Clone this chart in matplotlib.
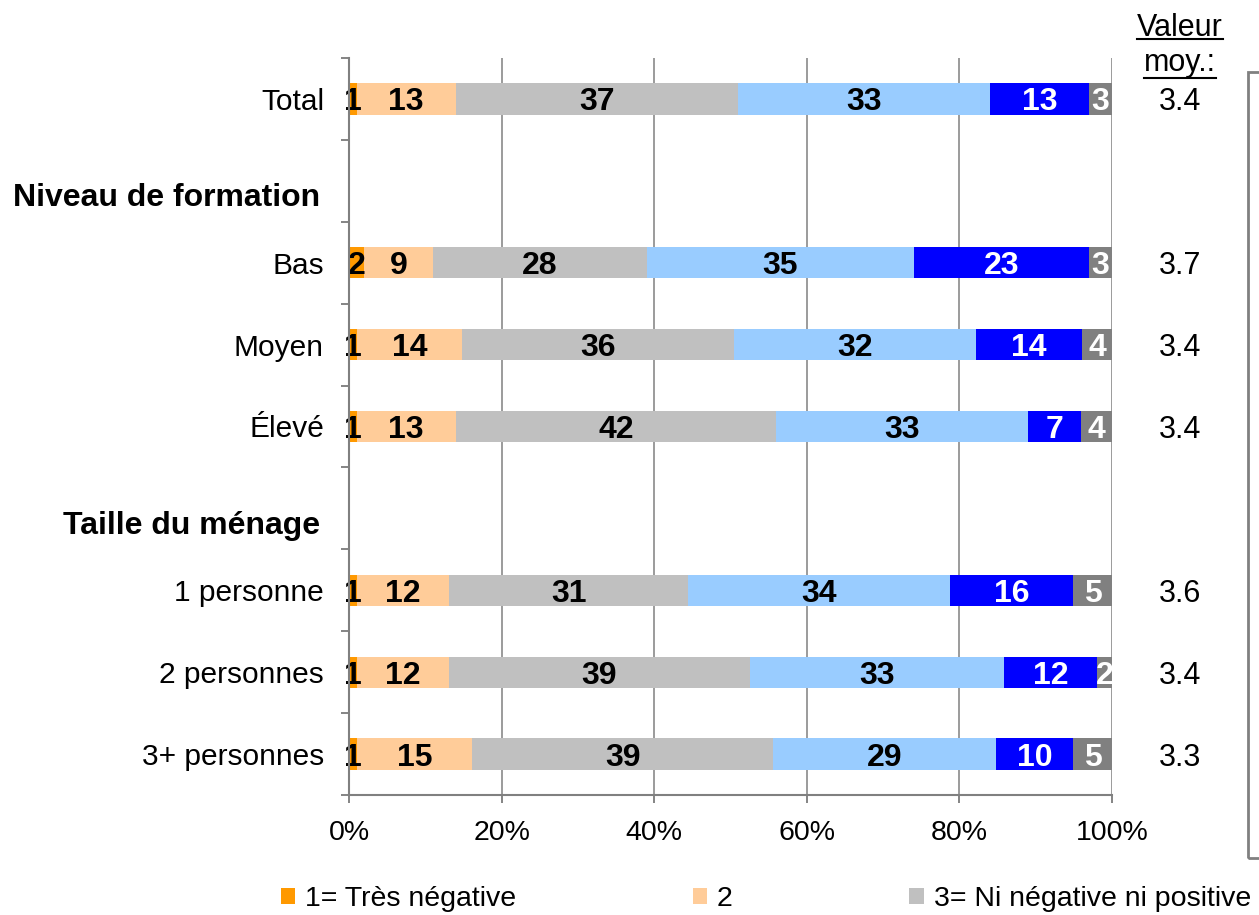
import numpy as np
import matplotlib
matplotlib.use('Agg')
import matplotlib.pyplot as plt
import matplotlib.transforms as mtransforms
from matplotlib.patches import Patch, Rectangle
from matplotlib.lines import Line2D

plt.rcParams['font.family'] = ['Liberation Sans', 'DejaVu Sans']

# rows of the chart (None = empty slot used by a section header)
rows = ['Total', None, 'Bas', 'Moyen', 'Élevé', None, '1 personne', '2 personnes', '3+ personnes']
headers = ['Niveau de formation', 'Taille du ménage']
header_slots = [1, 5]

series_names = ['1= Très négative', '2', '3= Ni négative ni positive']
series_colors = ['#FF9900', '#FFCC99', '#C0C0C0', '#99CCFF', '#0000FF', '#808080']
label_colors = ['black', 'black', 'black', 'black', 'white', 'white']

s1 = [1, 2, 1, 1, 1, 1, 1]
s2 = [13, 9, 14, 13, 12, 12, 15]
s3 = [37, 28, 36, 42, 31, 39, 39]
s4 = [33, 35, 32, 33, 34, 33, 29]
s5 = [13, 23, 14, 7, 16, 12, 10]
s6 = [3, 3, 4, 4, 5, 2, 5]
means = ['3.4', '3.7', '3.4', '3.4', '3.6', '3.4', '3.3']

series = np.array([s1, s2, s3, s4, s5, s6], dtype=float)
shares = series / series.sum(axis=0) * 100

ypos = [i for i, r in enumerate(rows) if r is not None]

fig = plt.figure(figsize=(12.59, 9.15), dpi=100)
ax = fig.add_axes([349 / 1259, 1 - 795 / 915, 763 / 1259, 737 / 915])

left = np.zeros(len(ypos))
for k in range(6):
    ax.barh(ypos, shares[k], left=left, height=0.38, color=series_colors[k], zorder=3)
    for j, y in enumerate(ypos):
        ax.text(left[j] + shares[k][j] / 2, y, '%d' % series[k][j], ha='center', va='center_baseline',
                fontsize=23, fontweight='bold', color=label_colors[k], zorder=4)
    left += shares[k]

ax.set_xlim(0, 100)
ax.set_ylim(len(rows) - 0.5, -0.5)
ax.set_xticks(np.arange(0, 101, 20))
ax.set_xticklabels(['%d%%' % v for v in range(0, 101, 20)], fontsize=20.5)
ax.set_yticks(ypos)
ax.set_yticklabels([r for r in rows if r is not None], fontsize=21.5)
ax.set_yticks(np.arange(-0.5, len(rows), 1), minor=True)
ax.tick_params(axis='y', which='major', length=0, pad=18)
ax.tick_params(axis='y', which='minor', length=6, width=1.2, color='#707070')
ax.tick_params(axis='x', length=6, width=1.2, color='#707070', pad=12)
ax.grid(axis='x', color='#8a8a8a', linewidth=1.2, zorder=0)
for s in ['top', 'right']:
    ax.spines[s].set_visible(False)
for s in ['left', 'bottom']:
    ax.spines[s].set_color('#808080')
    ax.spines[s].set_linewidth(1.5)
    ax.spines[s].set_zorder(5)

for h, slot in zip(headers, header_slots):
    ax.text(-0.038, slot + 0.17, h, transform=ax.get_yaxis_transform(), ha='right', va='center_baseline',
            fontsize=23, fontweight='bold')

# mean values column, right of the plot
mean_tr = mtransforms.blended_transform_factory(fig.transFigure, ax.transData)
for y, m in zip(ypos, means):
    ax.text(1180 / 1259, y, m, transform=mean_tr, ha='center', va='center_baseline', fontsize=22)

t1 = fig.text(1180 / 1259, 1 - 36 / 915, 'Valeur', ha='center', va='baseline', fontsize=22)
t2 = fig.text(1180 / 1259, 1 - 71 / 915, 'moy.:', ha='center', va='baseline', fontsize=22)
fig.canvas.draw()
r = fig.canvas.get_renderer()
for t, uy in [(t1, 39), (t2, 78)]:
    bb = t.get_window_extent(r)
    fig.add_artist(Line2D([bb.x0 / 1259, bb.x1 / 1259], [1 - uy / 915] * 2, color='black', lw=1.5))

# frame of the side box, cut by the figure edge
fig.add_artist(Rectangle((1248 / 1259, 1 - 858 / 915), 0.05, (858 - 72) / 915,
                         fill=False, edgecolor='#808080', lw=2, transform=fig.transFigure))

handles = [Patch(facecolor=c, edgecolor='none') for c in series_colors[:3]]
fig.legend(handles, series_names, loc='center left', bbox_to_anchor=(281 / 1259, 1 - 899 / 915),
           ncol=3, frameon=False, fontsize=20.5, handlelength=0.5, handleheight=0.5,
           handletextpad=0.35, columnspacing=6.2, borderaxespad=0, borderpad=0)

fig.savefig('out.png', dpi=100)
